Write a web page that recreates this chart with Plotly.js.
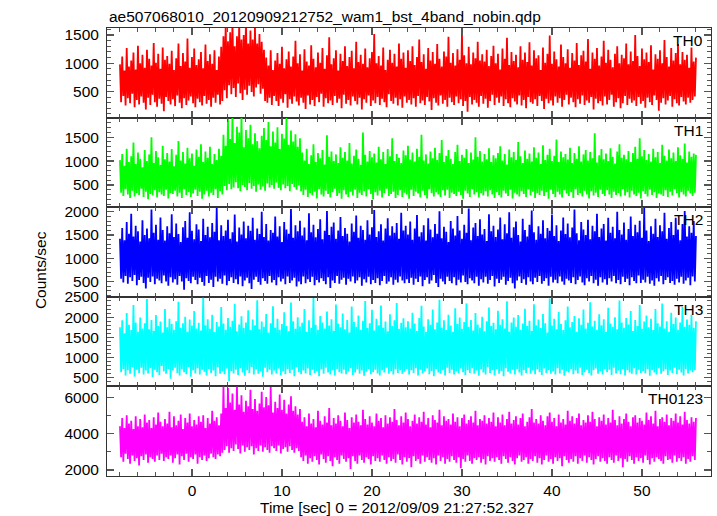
<!DOCTYPE html>
<html><head><meta charset="utf-8">
<script src="https://cdn.plot.ly/plotly-3.0.1.min.js"></script>
<style>html,body{margin:0;padding:0;background:#fff}#chart{width:717px;height:516px}</style>
</head><body><div id="chart"></div>
<script>
// Time bins (sec from 2012/09/09 21:27:52.327)
const timeStart = -8;
const timeStep = 0.125;

const TH0 = [
980,310,1120,420,870,250,1270,380,940,290,1050,460,1190,220,890,350,
1310,270,1000,410,1150,300,920,180,1240,390,1080,260,960,440,1360,310,
1010,230,1170,370,900,280,1280,150,1060,400,1130,330,990,270,1220,360,
880,240,1090,430,1350,300,950,200,1180,380,1030,260,1440,340,920,410,
1110,290,1260,220,970,370,1070,310,1200,250,910,420,1330,280,1040,350,
1160,230,990,390,1230,300,880,440,1120,270,1290,330,
1480,520,1700,380,1390,610,1550,450,1720,560,1300,400,1480,640,1690,470,
1420,350,1500,530,1750,440,1350,600,1580,490,1420,410,1640,570,1350,630,
1520,460,1380,550,1240,
330,1100,300,960,390,1230,260,880,420,1050,330,1180,240,990,370,1290,
300,910,450,1070,210,1210,360,940,280,1120,410,1400,320,1000,250,1160,
390,870,300,1250,190,1030,430,960,270,1320,350,1080,240,930,400,1190,
310,1010,460,1270,230,900,380,1140,290,1460,340,980,260,1090,420,1230,
300,870,370,1170,200,1040,440,1300,280,950,350,1110,250,1220,410,910,
330,1380,270,1020,390,1150,180,990,360,1260,300,930,430,1090,240,1200,
340,1520,290,1000,400,1130,260,960,370,1280,310,880,220,1060,450,1240,
330,1010,280,1170,390,940,250,1350,360,1080,210,1190,410,920,300,1230,
350,1040,270,1300,380,970,230,1110,420,1420,290,1020,340,1160,260,900,
400,1270,320,1050,170,1200,380,990,300,1340,250,1080,430,940,280,1210,
350,1120,230,1470,390,1010,310,1180,260,960,410,1250,290,1060,360,1540,
240,1140,330,1000,140,1290,400,980,270,1190,350,1090,300,1380,230,1050,
420,1160,280,1030,370,1240,210,950,330,1130,440,1310,260,1000,390,1170,
300,890,410,1260,240,1080,360,1450,290,970,220,1200,380,1040,320,1150,
270,930,430,1300,250,1060,350,1190,200,1020,400,1370,310,960,280,1230,
360,1090,240,1140,420,880,330,1280,190,1010,370,1170,290,1490,340,990,
250,1210,410,1070,300,940,380,1330,230,1110,350,1000,440,1250,270,920,
390,1180,310,1050,220,1360,360,970,280,1140,430,1220,260,1030,340,1430,
300,900,400,1190,180,1080,370,1270,290,960,330,1120,250,1400,410,1010,
270,1240,350,1060,440,930,230,1170,310,1300,380,1000,200,1150,290,1090,
420,1350,260,980,370,1210,300,1040,340,1500,240,1130,400,950,280,1260,
330,1070,210,1190,390,1020,310,1320,260,890,430,1160,350,1080,160,1230,
300,1000,380,1410,270,1110,340,940,420,1270,230,1050,360,1180,290,1340,
250,980,400,1200,320,1060,270,1150,390,920,300,1280,350,1030,410,1100
];

const TH1 = [
1020,340,1150,270,900,410,1260,300,980,230,1100,380,1390,260,940,330,
1180,290,1050,420,870,250,1230,360,1000,200,1140,310,1500,280,960,390,
1210,240,1080,350,920,300,1320,270,1040,400,1170,220,990,330,1250,310,
890,380,1130,260,1420,340,1010,230,1190,410,950,290,1280,350,1060,250,
1160,320,900,400,1240,270,1090,360,1350,210,980,300,1200,380,1070,260,
1300,340,940,290,1150,410,1020,230,1260,370,1110,300,
1550,480,1320,390,1880,520,1460,410,1960,450,1380,560,1720,430,1600,370,
1940,500,1290,460,1650,390,1480,540,1760,420,1350,480,1580,360,1420,510,
1270,400,1530,470,1690,380,1440,530,1820,450,1310,500,1620,420,1390,550,
1710,440,1250,390,1570,510,1470,430,1900,480,1340,370,1640,520,1410,460,
1560,400,1300,490,1480,
370,1180,290,1010,400,1260,250,940,330,1120,280,1350,360,980,220,1170,
410,1060,300,1230,260,930,380,1540,310,1090,240,1200,350,1000,420,1140,
270,960,330,1290,210,1070,390,1190,300,1010,250,1380,360,950,280,1110,
400,1240,230,1050,340,920,290,1600,370,1130,260,990,410,1210,310,1080,
200,1160,350,970,280,1300,380,1040,240,1190,330,940,420,1250,270,1100,
310,1480,360,1000,230,1150,290,1070,390,960,250,1220,340,1120,300,1320,
210,1030,400,1180,270,990,360,1260,320,1090,240,1550,380,1010,290,1140,
220,950,410,1200,330,1060,260,1280,350,1020,300,1170,250,1440,390,980,
280,1110,400,1230,230,1050,340,940,310,1190,270,1340,360,1000,290,1130,
210,1070,380,1250,320,960,250,1180,410,1030,300,1500,350,1090,240,1210,
330,990,280,1150,370,1040,260,1270,390,980,300,1120,230,1060,350,1170,
290,1310,240,1010,380,1150,320,930,270,1240,400,1080,220,1190,340,1020,
300,1400,260,1100,370,960,310,1220,250,1050,410,1160,280,990,360,1290,
230,1070,330,1180,290,940,380,1330,270,1020,350,1130,210,1260,400,1000,
310,1110,250,1450,360,980,300,1200,240,1080,390,1150,320,1030,270,1280,
350,960,230,1170,410,1050,290,1310,330,990,260,1140,380,1230,300,1010,
220,1190,370,1060,280,1580,340,970,250,1120,400,1250,310,1040,270,1160,
390,1000,300,1270,230,1090,360,950,290,1200,330,1350,260,1070,410,1130,
280,1040,350,1210,240,980,380,1170,300,1300,270,1050,340,1480,220,1100,
370,1230,310,1020,260,1150,400,990,290,1260,350,1080,230,1190,320,960,
300,1340,270,1110,390,1010,250,1240,360,1060,280,1180,410,1000,330,1290,
240,1120,350,1050,300,1370,260,970,380,1200,320,1090,270,1160,340,1130
];

const TH2 = [
1420,560,1650,480,1390,620,1780,450,1530,590,1960,510,1470,640,1700,420,
1580,530,1360,600,1820,470,1500,350,1640,580,1430,490,2050,610,1550,440,
1720,560,1400,520,1880,460,1610,630,1380,500,1690,410,1540,590,1950,480,
1460,550,1750,430,1520,620,1350,500,1670,320,1800,570,1440,510,1990,460,
1590,600,1410,530,1730,440,1620,580,1370,490,1850,410,1500,620,1680,470,
1450,540,1760,380,1570,600,2080,500,1390,560,1710,450,1480,630,1600,420,
1830,510,1420,590,1560,470,1940,550,1360,440,1660,610,1510,400,1790,520,
1430,580,1700,460,1590,340,1870,540,1400,600,1640,490,1520,430,2000,570,
1460,510,1740,450,1380,620,1610,480,1550,530,1900,420,1470,590,1690,500,
1350,560,1780,440,1620,610,1530,470,2060,520,1440,580,1710,390,1580,500,
1810,440,1490,610,1660,460,1390,550,1970,490,1560,600,1720,420,1450,530,
1630,480,1840,570,1410,510,1590,440,2020,590,1500,360,1680,520,1770,470,
1420,620,1600,450,1890,540,1480,580,1650,430,1530,560,1360,500,1750,610,
1570,460,1920,520,1440,590,1700,410,1610,550,1400,480,1820,600,1510,440,
1670,530,2040,470,1460,570,1580,420,1730,510,1380,620,1640,450,1860,500,
1490,590,1690,430,1550,540,1760,480,1420,610,1980,520,1600,460,1700,550,
1510,470,1790,580,1400,430,1640,560,1930,490,1470,610,1560,400,1710,530,
1380,590,1860,450,1620,520,1450,640,1740,470,1530,380,2010,560,1430,500,
1680,440,1570,600,1350,510,1800,460,1640,590,1490,420,1910,540,1600,480,
1420,630,1720,490,1550,440,2070,570,1390,520,1660,460,1760,600,1480,410,
1840,550,1510,480,1630,600,1370,450,1950,530,1580,620,1700,390,1460,560,
1620,470,1880,540,1410,600,1730,430,1540,510,1990,580,1440,460,1670,350,
1790,520,1500,610,1360,470,1850,550,1610,430,1470,590,1720,500,2030,440,
1560,580,1400,490,1690,620,1530,450,1820,510,1430,570,1650,410,1590,600,
1940,480,1480,540,1710,460,1370,610,1600,500,1880,430,1520,560,1750,520,
1450,470,1660,590,2050,440,1540,530,1390,610,1780,480,1620,420,1500,570,
1830,500,1410,620,1700,460,1580,540,1960,410,1460,590,1640,480,1740,550,
1380,430,1870,570,1550,500,1680,620,1430,460,2000,530,1610,440,1510,600,
1770,490,1400,560,1630,420,1900,590,1480,510,1720,460,1560,630,1810,470,
1440,540,2080,480,1600,600,1370,450,1690,520,1530,410,1850,570,1460,500,
1710,620,1580,440,1980,530,1420,590,1650,470,1780,510,1500,430,1870,560,
1620,480,1390,600,1740,450,2020,520,1470,580,1690,420,1550,610,1800,500,
1480
];

const TH3 = [
1750,640,1920,720,1600,560,2100,690,1810,600,1680,760,2300,530,1870,700,
1640,620,1990,750,1720,580,1850,680,2450,610,1700,740,1930,520,1660,700,
2050,640,1780,570,1890,790,1620,660,2200,600,1750,720,1960,480,1830,680,
1690,750,1900,620,2380,560,1740,710,1850,640,2010,590,1640,770,1940,530,
1790,690,2150,610,1720,740,1860,580,1670,700,2480,650,1800,560,1950,720,
1710,620,2060,680,1630,540,1880,760,1770,600,2250,660,1840,590,1690,730,
1980,420,1760,670,1910,610,2330,700,1650,570,1820,740,2020,630,1730,550,
1870,690,2170,620,1680,770,1940,580,1800,710,2420,600,1700,660,1890,530,
1760,750,2080,640,1620,700,1850,580,2270,680,1740,610,1960,730,1690,560,
1830,660,2120,590,1780,720,1650,620,2360,700,1900,540,1710,760,2000,640,
1770,590,1860,680,2200,610,1640,730,1920,570,1740,700,2470,620,1810,660,
1690,540,2030,710,1870,600,1720,750,2140,630,1790,580,1950,690,1660,560,
2310,720,1840,640,1750,610,2090,700,1700,590,1930,660,1620,740,2260,570,
1880,630,1760,710,2040,600,1690,680,1910,550,2400,650,1730,720,1850,590,
2180,640,1670,700,1960,610,1800,560,2290,690,1740,630,1890,750,1650,600,
2070,670,1780,580,1920,710,2350,620,1710,690,1860,600,1970,650,1750,720,
1900,580,1720,690,2110,620,1840,740,1660,560,1980,700,2280,610,1770,660,
1630,730,1950,590,1810,670,2190,540,1700,720,1870,630,2430,600,1740,690,
1920,560,1680,750,2060,620,1790,700,1640,580,2220,660,1830,610,1990,730,
1710,640,1880,570,2340,690,1760,620,1930,740,1670,600,2100,680,1820,550,
1740,710,2010,630,1650,580,1900,760,2240,620,1780,690,1860,560,1700,720,
2160,600,1810,670,1950,540,1720,740,2390,650,1640,610,1870,700,1990,580,
1760,720,2050,630,1690,560,1840,690,2210,620,1780,750,1910,600,1660,680,
2320,590,1800,710,1940,640,1730,570,2080,730,1850,620,1620,690,2460,600,
1790,660,1960,580,1700,740,2130,610,1830,700,1680,550,1920,670,2260,630,
1750,720,1880,590,2030,680,1640,610,1970,750,1810,570,2190,640,1720,700,
1860,620,2370,560,1770,690,1910,730,1690,600,2070,660,1800,580,1950,710,
1630,640,2230,700,1840,570,1760,750,2000,610,1700,680,2410,590,1870,720,
1740,560,1980,690,1820,630,2150,600,1660,740,1930,580,1780,700,2300,620,
1710,670,1890,610,2040,720,1750,550,1960,690,1680,630,2200,580,1850,740,
1770,600,2340,660,1720,710,1900,570,1640,680,2110,620,1830,750,1990,590,
1690,700,1870,630,2250,560,1760,720,1940,610,1810,680,2060,640,1730,690,
1900
];

const TH0123 = [
4400,2700,4850,2450,4300,2900,5000,2600,4550,2350,4700,2800,4250,2500,4950,2650,
4400,2250,4800,2750,4350,2550,5050,2850,4600,2400,4750,2700,4300,2600,4900,2450,
4500,2800,5150,2550,4650,2900,4400,2500,4800,2700,4550,2600,5200,2800,4350,2400,
4950,2650,4450,2850,4700,2300,5050,2750,4250,2550,4850,2900,4600,2450,5100,2700,
4400,2600,4750,2850,4500,2350,4950,2700,4650,2550,5000,2800,4300,2500,4850,2650,
4550,2900,5250,2700,4700,2600,4900,2850,4450,2750,5100,2950,
6600,3100,5400,3300,6500,2950,5700,3200,6200,3050,5300,3400,6600,3150,5600,2900,
6100,3350,5200,3000,5800,3250,5500,3100,6400,3300,5350,2850,5900,3200,5250,3050,
5650,3350,6300,3000,5450,3250,6000,3100,5550,2950,6550,3300,5150,3200,5750,3050,
5400,3350,6150,2900,5300,3150,5850,3250,5100,3000,5600,3300,6050,3100,5250,2950,
5500,3200,5050,3050,5350,
2700,4650,2500,4900,2800,4400,2350,5100,2650,4550,2450,4800,2750,4350,2550,5250,
2300,4700,2850,4500,2600,4950,2400,4600,2750,5400,2500,4450,2200,4850,2700,4550,
2550,5000,2350,4700,2800,4400,2600,5150,2450,4750,2650,4300,2050,4900,2750,4600,
2500,5050,2350,4650,2800,4450,2550,5300,2400,4800,2700,4500,2600,4950,2300,4600,
2750,4400,2500,5100,2650,4700,2450,4850,2800,4350,2550,5000,2350,4550,2700,4900,
2500,4650,2600,5350,2400,4750,2850,4450,2550,4950,2300,4600,2700,5150,2450,4800,
2650,4400,2150,4700,2750,5050,2500,4550,2600,4900,2350,4650,2800,5200,2450,4500,
2700,4850,2550,4350,2400,5000,2650,4750,2300,4600,2800,5300,2500,4450,2700,4950,
2350,4700,2600,4800,2450,4500,2750,5100,2550,4650,2400,4900,2700,4400,2100,4850,
2600,5050,2450,4550,2800,4750,2500,4950,2350,4600,2650,5250,2550,4450,2700,4800,
2400,4700,2600,5000,2300,4550,2750,4850,2500,4650,2650,5150,2450,4400,2700,4900,
2550,4600,2350,5050,2750,4450,2600,4800,2400,5200,2700,4550,2500,4750,2300,4950,
2650,4500,2800,4850,2450,5100,2550,4400,2700,4650,2350,4900,2600,5350,2500,4600,
2750,4800,2400,4550,2650,5000,2300,4700,2550,4450,2800,4950,2450,5150,2600,4650,
2350,4850,2700,4400,2500,5050,2650,4600,2200,4800,2750,4500,2550,5250,2400,4700,
2600,4950,2450,4550,2750,4850,2350,5100,2650,4450,2500,4750,2800,4600,2400,5000,
2700,4650,2550,5200,2300,4800,2600,4400,2750,4900,2450,4700,2650,5050,2500,4500,
2350,4850,2700,4600,2550,5300,2400,4750,2800,4450,2500,4950,2650,4550,2150,4800,
2600,5100,2450,4650,2750,4400,2550,4900,2350,5000,2700,4600,2500,4850,2650,4700,
2400,4500,2800,5150,2550,4750,2300,4950,2650,4550,2450,5250,2700,4400,2600,4800,
2500,4900,2350,4650,2750,5050,2550,4450,2600,4850,2400,4700,2800,5100,2450,4600,
2650,4950,2500,4500,2700,5200,2350,4750,2600,4550,2450,4900,2750,4650,2550,4850
];

const seriesValues = [TH0, TH1, TH2, TH3, TH0123];
const panelNames = ['TH0', 'TH1', 'TH2', 'TH3', 'TH0123'];
const lineColors = ['#ff0000', '#00ff00', '#0000ff', '#00ffff', '#ff00ff'];
const yRanges = [[36, 1625], [35, 1910], [170, 2100], [288, 2503], [1670, 6590]];
const yMajor = [500, 500, 500, 500, 2000];
const yMinor = [100, 100, 100, 100, 1000];

const FONT = 'Liberation Sans, Arial, Helvetica, sans-serif';
const FS = 15.5;
const AXC = '#333';
const n = seriesValues.length;

const traces = [];
const layout = {
  width: 717, height: 516,
  margin: {l: 107, r: 6, t: 28, b: 40},
  paper_bgcolor: '#fff', plot_bgcolor: '#fff',
  showlegend: false,
  font: {family: FONT, size: FS, color: '#000'},
  annotations: []
};

seriesValues.forEach((vals, i) => {
  const time = vals.map((_, k) => timeStart + k * timeStep);
  const ax = i === 0 ? '' : String(i + 1);
  traces.push({
    type: 'scatter', mode: 'lines',
    x: time, y: vals,
    xaxis: 'x' + ax, yaxis: 'y' + ax,
    line: {color: lineColors[i], width: 1.8, simplify: false},
    hoverinfo: 'skip'
  });
  const top = 1 - i / n, bot = 1 - (i + 1) / n;
  layout['xaxis' + ax] = {
    domain: [0, 1], anchor: 'y' + ax,
    range: [-9.44, 57.67],
    matches: i === 0 ? undefined : 'x',
    showgrid: false, zeroline: false,
    showline: true, linecolor: AXC, linewidth: 1, mirror: 'ticks',
    ticks: 'inside', ticklen: 7, tickwidth: 1.2, tickcolor: '#555',
    tick0: 0, dtick: 10,
    minor: {dtick: 2, ticks: 'inside', ticklen: 4, tickwidth: 1, tickcolor: '#555', showgrid: false},
    showticklabels: i === n - 1,
    tickfont: {family: FONT, size: FS, color: '#000'}
  };
  layout['yaxis' + ax] = {
    domain: [bot, top], anchor: 'x' + ax,
    range: yRanges[i],
    showgrid: false, zeroline: false,
    showline: true, linecolor: AXC, linewidth: 1, mirror: 'ticks',
    ticks: 'inside', ticklen: 7, tickwidth: 1.2, tickcolor: '#555',
    tick0: 0, dtick: yMajor[i],
    minor: {dtick: yMinor[i], ticks: 'inside', ticklen: 4, tickwidth: 1, tickcolor: '#555', showgrid: false},
    ticklabelstandoff: 4,
    tickfont: {family: FONT, size: FS, color: '#000'}
  };
  layout.annotations.push({
    text: panelNames[i], xref: 'paper', yref: 'paper',
    x: 0.99, y: top, xanchor: 'right', yanchor: 'top', yshift: -2,
    showarrow: false, font: {family: FONT, size: FS, color: '#000'}
  });
});

layout.annotations.push({
  text: 'ae507068010_20120909212752_wam1_bst_4band_nobin.qdp',
  xref: 'paper', yref: 'paper', x: 0, y: 1, xanchor: 'left', yanchor: 'bottom',
  yshift: 1, showarrow: false, font: {family: FONT, size: FS, color: '#000'}
});
layout.annotations.push({
  text: 'Counts/sec', xref: 'paper', yref: 'paper', x: -0.109, y: 0.46,
  xanchor: 'center', yanchor: 'middle', textangle: -90,
  showarrow: false, font: {family: FONT, size: FS, color: '#000'}
});
layout.annotations.push({
  text: 'Time [sec] 0 = 2012/09/09 21:27:52.327', xref: 'paper', yref: 'paper',
  x: 0.48, y: 0, yshift: -31, xanchor: 'center', yanchor: 'middle',
  showarrow: false, font: {family: FONT, size: FS, color: '#000'}
});

Plotly.newPlot('chart', traces, layout, {staticPlot: true, displayModeBar: false});
</script></body></html>
